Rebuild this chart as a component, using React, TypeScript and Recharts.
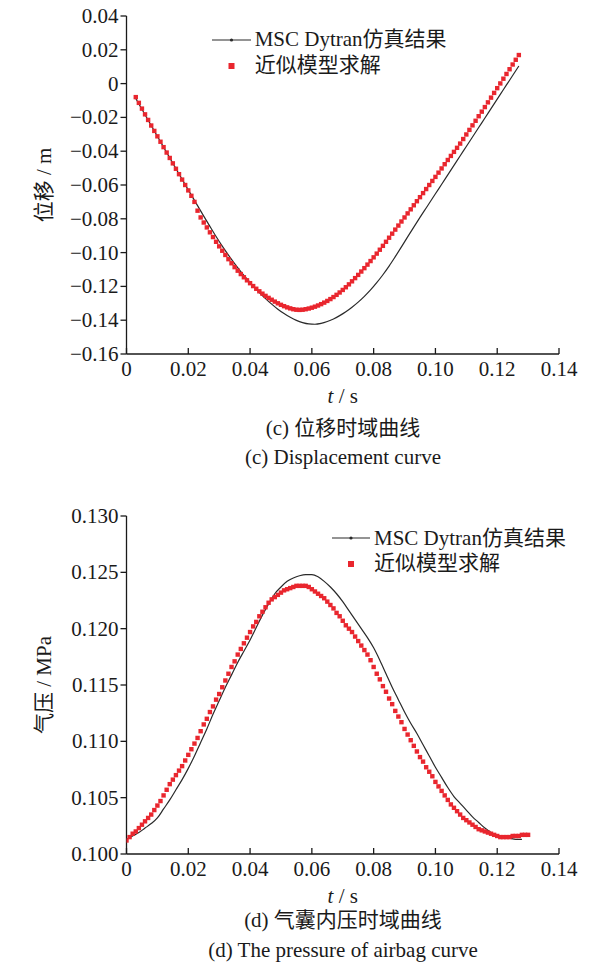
import { ComposedChart, Label, Legend, Line, Scatter, XAxis, YAxis } from 'recharts'

const FONT = '"Liberation Serif", "Times New Roman", "Noto Sans CJK SC", serif'
const INK = '#1a1a1a'
const SIM_COLOR = '#2a2a2a'
const MODEL_COLOR = '#e9262e'

const SERIES_SIM = 'MSC Dytran仿真结果'
const SERIES_MODEL = '近似模型求解'

const TIME_TICKS = [0, 0.02, 0.04, 0.06, 0.08, 0.1, 0.12, 0.14]
const DISP_TICKS = [0.04, 0.02, 0, -0.02, -0.04, -0.06, -0.08, -0.1, -0.12, -0.14, -0.16]
const PRESSURE_TICKS = [0.1, 0.105, 0.11, 0.115, 0.12, 0.125, 0.13]

// (c) displacement, m — sim sampled every 2 ms from 3 ms
const DISP_SIM_T0 = 0.003
const DISP_SIM_STEP = 0.002
const dispSim = [
  -0.0088, -0.0152, -0.0216, -0.028, -0.0344, -0.0408, -0.0471, -0.0535, -0.0598, -0.066,
  -0.0722, -0.0784, -0.0845, -0.0905, -0.0962, -0.1015, -0.1065, -0.1112, -0.1156, -0.1197,
  -0.1236, -0.1272, -0.1305, -0.1335, -0.1361, -0.1383, -0.1401, -0.1414, -0.1422, -0.1424,
  -0.1419, -0.1408, -0.1393, -0.1373, -0.135, -0.1323, -0.1293, -0.1259, -0.1221, -0.1178,
  -0.1131, -0.108, -0.1024, -0.0966, -0.0907, -0.0849, -0.0792, -0.0736, -0.068, -0.0624,
  -0.0568, -0.0512, -0.0456, -0.04, -0.0344, -0.0288, -0.0232, -0.0176, -0.012, -0.0064,
  -0.0008, 0.0048, 0.0104,
]

// approximate model, every 1 ms from 3 ms
const DISP_MODEL_T0 = 0.003
const DISP_MODEL_STEP = 0.001
const dispModel = [
  -0.008, -0.0114, -0.0148, -0.0182, -0.0215, -0.0248, -0.028, -0.0312, -0.0344, -0.0376,
  -0.0408, -0.044, -0.0472, -0.0504, -0.0536, -0.0568, -0.06, -0.0632, -0.0664, -0.07,
  -0.0752, -0.0792, -0.0822, -0.0851, -0.088, -0.0908, -0.0936, -0.0963, -0.0989, -0.1014,
  -0.1039, -0.1063, -0.1086, -0.1107, -0.1127, -0.1146, -0.1164, -0.1181, -0.1198, -0.1214,
  -0.1229, -0.1243, -0.1256, -0.1268, -0.1279, -0.129, -0.13, -0.1309, -0.1317, -0.1324,
  -0.133, -0.1335, -0.1338, -0.1339, -0.1338, -0.1335, -0.1331, -0.1326, -0.132, -0.1313,
  -0.1305, -0.1296, -0.1286, -0.1275, -0.1263, -0.125, -0.1236, -0.1221, -0.1205, -0.1188,
  -0.117, -0.1151, -0.1132, -0.1112, -0.1092, -0.1071, -0.105, -0.1028, -0.1006, -0.0983,
  -0.096, -0.0936, -0.0912, -0.0888, -0.0864, -0.084, -0.0816, -0.0792, -0.0768, -0.0744,
  -0.072, -0.0696, -0.0672, -0.0648, -0.0624, -0.06, -0.0576, -0.0552, -0.0527, -0.0502,
  -0.0477, -0.0452, -0.0428, -0.0404, -0.038, -0.0355, -0.0328, -0.0301, -0.0274, -0.0247,
  -0.022, -0.0193, -0.0166, -0.0139, -0.0111, -0.0083, -0.0055, -0.0027, 0.0001, 0.0029,
  0.0057, 0.0085, 0.0113, 0.0141, 0.0169,
]

// (d) airbag pressure, MPa — sim every 2 ms from 0
const PRES_SIM_T0 = 0
const PRES_SIM_STEP = 0.002
const presSim = [
  0.1013, 0.1016, 0.1019, 0.1023, 0.1027, 0.1032, 0.104, 0.1048, 0.1057, 0.1066,
  0.1076, 0.1087, 0.1099, 0.1111, 0.1124, 0.1136, 0.1148, 0.1159, 0.117, 0.118,
  0.119, 0.1201, 0.1212, 0.1222, 0.1231, 0.1237, 0.1242, 0.1245, 0.1247, 0.1248,
  0.1248, 0.1246, 0.1242, 0.1237, 0.1231, 0.1224, 0.1216, 0.1208, 0.12, 0.1192,
  0.1183, 0.1172, 0.116, 0.1148, 0.1137, 0.1126, 0.1116, 0.1107, 0.1097, 0.1087,
  0.1077, 0.1068, 0.1059, 0.1051, 0.1045, 0.1039, 0.1033, 0.1028, 0.1023, 0.1019,
  0.1016, 0.1015, 0.1014, 0.1013, 0.1013,
]

const PRES_MODEL_T0 = 0
const PRES_MODEL_STEP = 0.001
const presModel = [
  0.1012, 0.1015, 0.1018, 0.102, 0.1023, 0.1026, 0.1029, 0.1032, 0.1035, 0.1039,
  0.1043, 0.1047, 0.1052, 0.1057, 0.1062, 0.1066, 0.107, 0.1074, 0.1078, 0.1083,
  0.1088, 0.1093, 0.1098, 0.1103, 0.1109, 0.1115, 0.112, 0.1126, 0.1131, 0.1137,
  0.1142, 0.1148, 0.1154, 0.116, 0.1166, 0.1171, 0.1177, 0.1182, 0.1187, 0.1192,
  0.1197, 0.1202, 0.1206, 0.1211, 0.1215, 0.1219, 0.1223, 0.1226, 0.1228, 0.123,
  0.1232, 0.1234, 0.1235, 0.1236, 0.1237, 0.1238, 0.1238, 0.1238, 0.1238, 0.1237,
  0.1235, 0.1233, 0.1231, 0.1229, 0.1227, 0.1224, 0.1221, 0.1218, 0.1214, 0.1211,
  0.1207, 0.1203, 0.12, 0.1197, 0.1193, 0.1189, 0.1185, 0.1181, 0.1177, 0.1172,
  0.1166, 0.116, 0.1155, 0.1149, 0.1144, 0.1138, 0.1133, 0.1127, 0.1122, 0.1117,
  0.1111, 0.1106, 0.1101, 0.1096, 0.1091, 0.1086, 0.1082, 0.1077, 0.1073, 0.1069,
  0.1064, 0.106, 0.1056, 0.1052, 0.1048, 0.1044, 0.1041, 0.1038, 0.1035, 0.1032,
  0.103, 0.1028, 0.1026, 0.1024, 0.1022, 0.1021, 0.102, 0.1019, 0.1018, 0.1017,
  0.1016, 0.1015, 0.1015, 0.1015, 0.1015, 0.1016, 0.1016, 0.1016, 0.1017, 0.1017,
  0.1017,
]

const toPoints = (values: number[], t0: number, step: number) =>
  values.map((v, i) => ({ t: Number((t0 + i * step).toFixed(4)), v }))

const fmtTime = (v: number) => (v === 0 ? '0' : v.toFixed(2))
const fmtDisp = (v: number) => (Math.abs(v) < 1e-9 ? '0' : (v < 0 ? '\u2212' : '') + Math.abs(v).toFixed(2))
const fmtPres = (v: number) => v.toFixed(3)

const square = (props: any) => (
  <rect x={props.cx - 2.2} y={props.cy - 2.2} width={4.4} height={4.4} fill={MODEL_COLOR} />
)

function LegendBox({ lineW }: { lineW: number }) {
  const row = { display: 'flex', alignItems: 'center', height: 25.5, whiteSpace: 'nowrap' as const }
  return (
    <div style={{ fontFamily: FONT, fontSize: 21, color: INK, lineHeight: '25.5px' }}>
      <div style={row}>
        <svg width={lineW} height={10}>
          <line x1={0} y1={5} x2={lineW} y2={5} stroke={SIM_COLOR} strokeWidth={1.2} />
          <circle cx={lineW / 2} cy={5} r={1.6} fill={SIM_COLOR} />
        </svg>
        <span style={{ marginLeft: 4 }}>{SERIES_SIM}</span>
      </div>
      <div style={row}>
        <svg width={lineW} height={10}>
          <rect x={lineW / 2 - 3} y={2} width={6} height={6} fill={MODEL_COLOR} />
        </svg>
        <span style={{ marginLeft: 4 }}>{SERIES_MODEL}</span>
      </div>
    </div>
  )
}

// tick renderers so the serif face and size are set on the text itself
const TimeTick = ({ x, y, payload }: any) => (
  <text x={x} y={y} dy={14.5} textAnchor="middle" fontFamily={FONT} fontSize={21} fill={INK}>
    {fmtTime(payload.value)}
  </text>
)

const makeValueTick = (fmt: (v: number) => string) => ({ x, y, payload }: any) => (
  <text x={x} y={y} dy={7} textAnchor="end" fontFamily={FONT} fontSize={21} fill={INK}>
    {fmt(payload.value)}
  </text>
)

interface PanelProps {
  top: number
  sim: { t: number; v: number }[]
  model: { t: number; v: number }[]
  domain: [number, number]
  ticks: number[]
  fmt: (v: number) => string
  yTitle: string
  legendLeft: number
  legendTop: number
  legendLineW: number
}

function Panel({ top, sim, model, domain, ticks, fmt, yTitle, legendLeft, legendTop, legendLineW }: PanelProps) {
  const axisStyle = { stroke: INK, strokeWidth: 1.3 }
  return (
    <div style={{ position: 'absolute', left: 0, top, fontFamily: FONT, fontSize: 21 }}>
      <ComposedChart width={605} height={410} margin={{ top: 16, right: 46, bottom: 30, left: 0 }}>
        <XAxis
          type="number"
          dataKey="t"
          domain={[0, 0.14]}
          ticks={TIME_TICKS}
          interval={0}
          allowDataOverflow
          tickSize={-6}
          tickMargin={13}
          height={26}
          axisLine={axisStyle}
          tickLine={axisStyle}
          tick={<TimeTick />}
        >
          <Label
            content={({ viewBox }: any) => (
              <text
                x={viewBox.x + viewBox.width / 2}
                y={viewBox.y + 49}
                textAnchor="middle"
                fontFamily={FONT}
                fontSize={21}
                fill={INK}
              >
                <tspan fontStyle="italic">t</tspan>
                <tspan> / s</tspan>
              </text>
            )}
          />
        </XAxis>
        <YAxis
          type="number"
          domain={domain}
          ticks={ticks}
          interval={0}
          allowDataOverflow
          width={126.5}
          tickSize={6}
          tickMargin={2}
          axisLine={axisStyle}
          tickLine={axisStyle}
          tick={makeValueTick(fmt)}
        >
          <Label
            content={({ viewBox }: any) => {
              const cx = 44
              const cy = viewBox.y + viewBox.height / 2
              return (
                <text
                  x={cx}
                  y={cy}
                  transform={`rotate(-90 ${cx} ${cy})`}
                  textAnchor="middle"
                  dominantBaseline="central"
                  fontFamily={FONT}
                  fontSize={21}
                  fill={INK}
                >
                  {yTitle}
                </text>
              )
            }}
          />
        </YAxis>
        <Legend
          layout="vertical"
          align="center"
          verticalAlign="middle"
          wrapperStyle={{ left: legendLeft, top: legendTop, width: 'auto', height: 'auto' }}
          content={() => <LegendBox lineW={legendLineW} />}
        />
        <Line
          data={sim}
          dataKey="v"
          name={SERIES_SIM}
          type="monotone"
          stroke={SIM_COLOR}
          strokeWidth={1.2}
          dot={false}
          isAnimationActive={false}
        />
        <Scatter data={model} dataKey="v" name={SERIES_MODEL} shape={square} isAnimationActive={false} />
      </ComposedChart>
    </div>
  )
}

function Caption({ top, text }: { top: number; text: string }) {
  return (
    <div
      style={{
        position: 'absolute',
        left: 93,
        width: 500,
        top,
        textAlign: 'center',
        fontFamily: FONT,
        fontSize: 21,
        lineHeight: '25px',
        color: INK,
        whiteSpace: 'nowrap',
      }}
    >
      {text}
    </div>
  )
}

export default function App() {
  return (
    <div style={{ position: 'relative', width: 605, height: 966, background: '#fff', overflow: 'hidden' }}>
      <style>{'body{margin:0}'}</style>
      <Panel
        top={0}
        sim={toPoints(dispSim, DISP_SIM_T0, DISP_SIM_STEP)}
        model={toPoints(dispModel, DISP_MODEL_T0, DISP_MODEL_STEP)}
        domain={[-0.16, 0.04]}
        ticks={DISP_TICKS}
        fmt={fmtDisp}
        yTitle="位移 / m"
        legendLeft={211.7}
        legendTop={27.25}
        legendLineW={39}
      />
      <Caption top={415.5} text="(c) 位移时域曲线" />
      <Caption top={445} text="(c) Displacement curve" />
      <Panel
        top={500}
        sim={toPoints(presSim, PRES_SIM_T0, PRES_SIM_STEP)}
        model={toPoints(presModel, PRES_MODEL_T0, PRES_MODEL_STEP)}
        domain={[0.1, 0.13]}
        ticks={PRESSURE_TICKS}
        fmt={fmtPres}
        yTitle="气压 / MPa"
        legendLeft={332}
        legendTop={25.5}
        legendLineW={38}
      />
      <Caption top={907.5} text="(d) 气囊内压时域曲线" />
      <Caption top={937.5} text="(d) The pressure of airbag curve" />
    </div>
  )
}
